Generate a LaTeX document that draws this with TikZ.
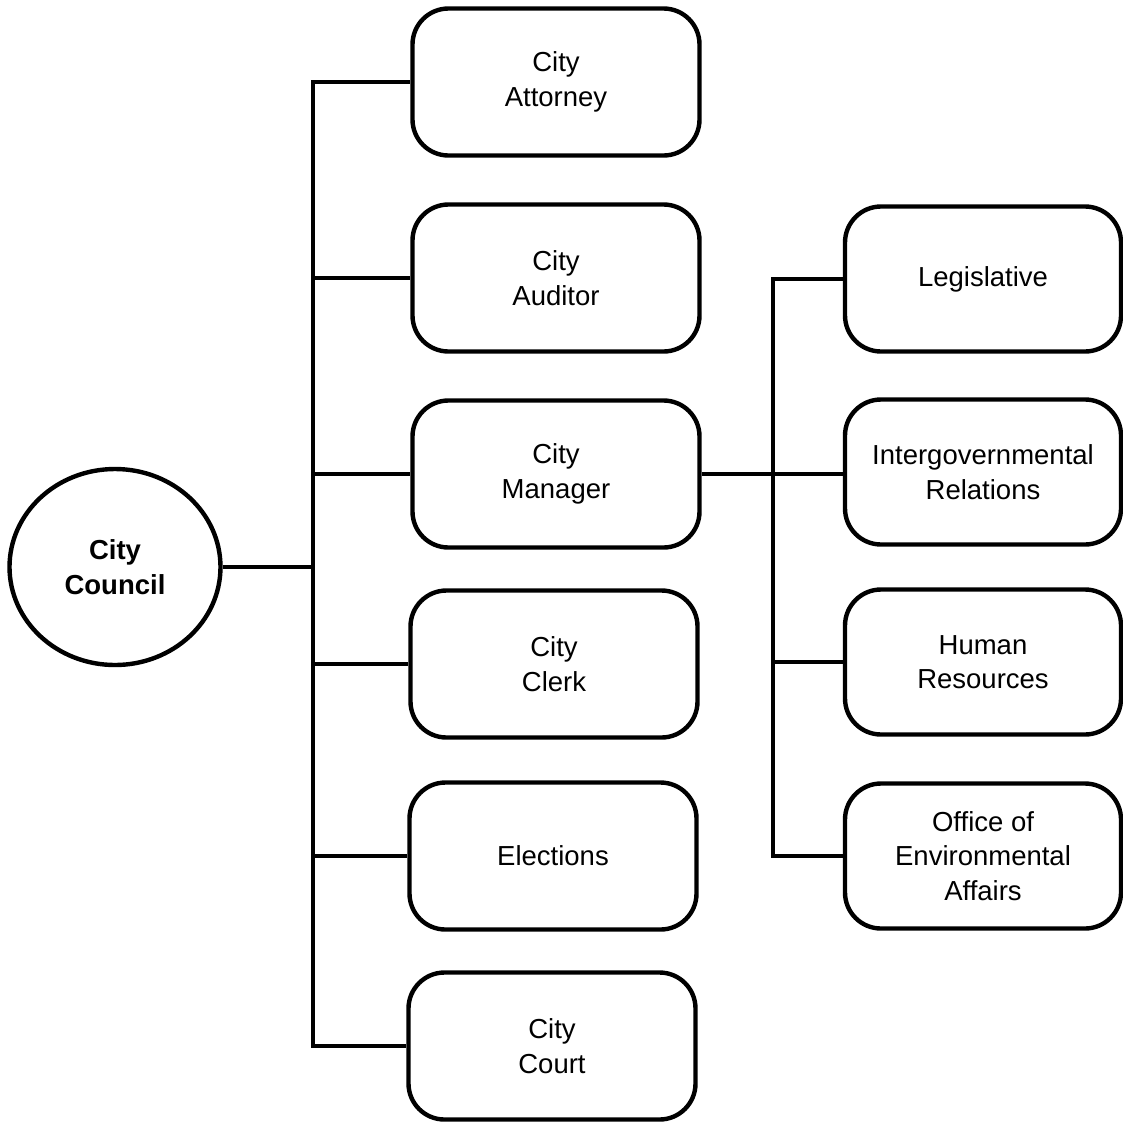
\documentclass[tikz,border=0pt]{standalone}
\usepackage{fontspec}
\setmainfont{Liberation Sans}
\usetikzlibrary{shapes.geometric}
\begin{document}
\begin{tikzpicture}[x=1pt,y=-1pt,
  line width=4.4pt,
  every node/.style={font=\fontsize{27.5}{34.5}\selectfont, align=center, inner sep=0pt},
  office/.style={draw, rounded corners=36pt, minimum width=287pt, minimum height=147pt},
  suboffice/.style={draw, rounded corners=36pt, minimum width=276pt, minimum height=145pt},
  council/.style={draw, ellipse, minimum width=211pt, minimum height=196pt, font=\fontsize{27.5}{34.5}\selectfont\bfseries},
  link/.style={line width=4.4pt}]
\useasboundingbox (0,0) rectangle (1123,1122);

% governing body
\node[council] (cc) at (115,567) {City\\Council};

% offices reporting to the council
\node[office] (att) at (556,82)   {City\\Attorney};
\node[office] (aud) at (556,278)  {City\\Auditor};
\node[office] (mgr) at (556,474)  {City\\Manager};
\node[office] (clk) at (554,664)  {City\\Clerk};
\node[office] (ele) at (553,856)  {Elections};
\node[office] (crt) at (552,1046) {City\\Court};

% offices under the city manager
\node[suboffice] (leg) at (983,279) {Legislative};
\node[suboffice] (igr) at (983,472) {Intergovernmental\\Relations};
\node[suboffice] (hr)  at (983,662) {Human\\Resources};
\node[suboffice] (oea) at (983,856) {Office of\\Environmental\\Affairs};

% council trunk
\coordinate (ttop) at (313,82);
\coordinate (tbot) at (313,1046);
\draw[link, line cap=rect] (ttop) -- (tbot);
\draw[link] (cc.east) -- (cc.east -| ttop);
\foreach \b in {att,aud,mgr,clk,ele,crt}
  \draw[link] (\b.west -| ttop) -- (\b.west);

% manager trunk
\coordinate (stop) at (773,279);
\coordinate (sbot) at (773,856);
\draw[link, line cap=rect] (stop) -- (sbot);
\draw[link] (mgr.east) -- (igr.west |- mgr.east);
\foreach \b in {leg,hr,oea}
  \draw[link] (\b.west -| stop) -- (\b.west);
\end{tikzpicture}
\end{document}
